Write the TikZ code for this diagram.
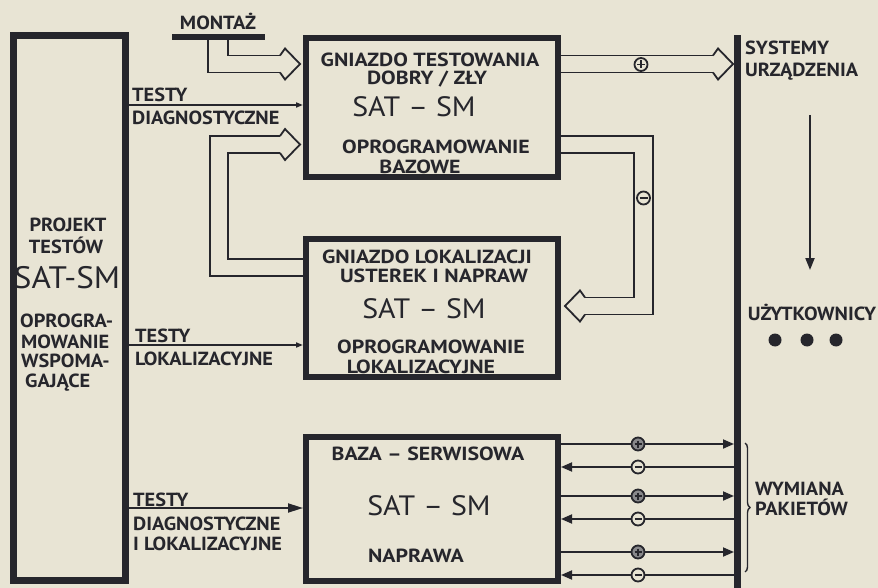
\documentclass[tikz,border=0pt]{standalone}
\usepackage{fontspec}
\setmainfont{PT Sans}
\newfontfamily\etyfont{PT Sans}[FakeStretch=1.07]
\newfontfamily\napfont{PT Sans}[FakeStretch=1.15]
\usetikzlibrary{arrows.meta,calc,positioning,decorations.pathreplacing}
\definecolor{tlo}{RGB}{232,228,212}
\definecolor{tusz}{RGB}{38,38,44}
\tikzset{
    blok/.style={draw=tusz,line width=6pt,inner sep=0pt},
    szynastyl/.style={fill=tusz,inner sep=0pt,outer sep=0pt,minimum width=7pt,minimum height=553pt},
    przewod/.style={draw=tusz,line width=1.8pt,line join=miter},
    etykieta/.style={font=\etyfont\bfseries\fontsize{19}{21}\selectfont,text=tusz,inner sep=0pt},
    napis/.style={font=\napfont\bfseries\fontsize{19}{21}\selectfont,text=tusz,inner sep=0pt},
    satsm/.style={font=\etyfont\fontsize{28}{30}\selectfont,text=tusz,inner sep=0pt},
    grotmaly/.style={-{Triangle[length=7pt,width=5pt]}},
    grotpelny/.style={-{Triangle[length=11pt,width=9pt]}},
    pics/grot/.style={code={
        \draw[przewod] (-20,-8.5) -- (-15,-15.5) -- (0,0) -- (-15,15.5) -- (-20,8.5);
    }}
}

\begin{document}
\begin{tikzpicture}[x=1pt,y=-1pt]
  \path[use as bounding box,fill=tlo] (0,0) rectangle (878,588);

  % napisy w blokach
  \node[etykieta,anchor=base] at (68,232) {PROJEKT};
  \node[etykieta,anchor=base] at (66,253) {TESTÓW};
  \node[satsm,font=\etyfont\fontsize{31}{33}\selectfont,anchor=base] at (67,288) {SAT-SM};
  \node[etykieta,anchor=base west] at (20,327) {OPROGRA-};
  \node[etykieta,anchor=base west] at (21,348) {MOWANIE};
  \node[etykieta,anchor=base west] at (21,367) {WSPOMA-};
  \node[etykieta,anchor=base west] at (25,387) {GAJĄCE};

  \node[napis,anchor=base] at (430,67) {GNIAZDO TESTOWANIA};
  \node[napis,anchor=base] at (427,85) {DOBRY / ZŁY};
  \node[satsm,anchor=base] at (414,117) {SAT – SM};
  \node[napis,anchor=base] at (436,154) {OPROGRAMOWANIE};
  \node[napis,anchor=base] at (420,174) {BAZOWE};

  \node[napis,anchor=base] at (427,263) {GNIAZDO LOKALIZACJI};
  \node[napis,anchor=base] at (434,282) {USTEREK I NAPRAW};
  \node[satsm,anchor=base] at (424,318) {SAT – SM};
  \node[napis,anchor=base] at (431,353) {OPROGRAMOWANIE};
  \node[napis,anchor=base] at (421,373) {LOKALIZACYJNE};

  \node[napis,anchor=base] at (428,460) {BAZA – SERWISOWA};
  \node[satsm,anchor=base] at (429,515) {SAT – SM};
  \node[napis,anchor=base] at (416,562) {NAPRAWA};

  % bloki
  \node[blok,line width=7pt,minimum width=112pt,minimum height=544pt] (projekt) at (69,308) {};
  \node[blok,minimum width=252pt,minimum height=139pt] (gtest) at (432,107.5) {};
  \node[blok,minimum width=252pt,minimum height=138pt] (glok) at (432,308) {};
  \node[blok,minimum width=252pt,minimum height=144pt] (baza) at (432,509) {};
  \node[szynastyl] (szyna) at (737.5,311.5) {};

  % montaz
  \node[etykieta,anchor=base] (montaz) at (218,30) {MONTAŻ};
  \draw[tusz,line width=6pt] (172,37) -- (265,37);
  \draw[przewod] (208,40) -- (208,72.5) -- (280,72.5);
  \draw[przewod] (228,40) -- (228,55.5) -- (280,55.5);
  \pic at (300,64) {grot};

  % testy
  \draw[przewod,grotmaly] (projekt.east |- 0,105) -- (gtest.west |- 0,105);
  \node[etykieta,anchor=base west] at (132,102) {TESTY};
  \node[etykieta,anchor=base west] at (132,125) {DIAGNOSTYCZNE};

  \draw[przewod,grotmaly] (projekt.east |- 0,345) -- (glok.west |- 0,345);
  \node[etykieta,anchor=base west] at (135,342) {TESTY};
  \node[etykieta,anchor=base west] at (135,365) {LOKALIZACYJNE};

  \draw[przewod,-{Triangle[length=15pt,width=9pt]}] (projekt.east |- 0,508) -- (baza.west |- 0,508);
  \node[etykieta,anchor=base west] at (133,506) {TESTY};
  \node[etykieta,anchor=base west] at (133,530) {DIAGNOSTYCZNE};
  \node[etykieta,anchor=base west] at (133,550) {I LOKALIZACYJNE};

  % powrot z lokalizacji
  \draw[przewod] (glok.west |- 0,276) -- (210,276) -- (210,136) -- (280,136);
  \draw[przewod] (glok.west |- 0,259) -- (228,259) -- (228,153) -- (280,153);
  \pic at (300,144.5) {grot};

  % dobry -> systemy
  \draw[przewod] (gtest.east |- 0,55.5) -- (713,55.5);
  \draw[przewod] (gtest.east |- 0,72.5) -- (713,72.5);
  \pic at (733,64) {grot};
  \draw[przewod,fill=tlo] (641,64.5) circle (6.5);
  \draw[przewod,line width=1.4pt] (637,64.5) -- (645,64.5) (641,60.5) -- (641,68.5);

  % zly -> naprawa
  \draw[przewod] (gtest.east |- 0,136) -- (653,136) -- (653,314.5) -- (585,314.5);
  \draw[przewod] (gtest.east |- 0,153) -- (634,153) -- (634,297.5) -- (585,297.5);
  \pic[xscale=-1] at (565,306) {grot};
  \draw[przewod,fill=tlo] (643.5,198) circle (6.5);
  \draw[przewod,line width=1.4pt] (639.5,198) -- (647.5,198);

  % wymiana pakietow
  \foreach \y in {444,496,552}{
    \draw[przewod,grotpelny] (baza.east |- 0,\y) -- (szyna.west |- 0,\y);
    \draw[przewod,fill=tusz!55] (638,\y) circle (6.5);
    \draw[tusz,line width=1.2pt] (634.5,\y) -- (641.5,\y) (638,\y-3.5) -- (638,\y+3.5);
  }
  \foreach \y in {467,519,575}{
    \draw[przewod,grotpelny] (szyna.west |- 0,\y) -- (baza.east |- 0,\y);
    \draw[przewod,fill=tlo] (638,\y) circle (6.5);
    \draw[tusz,line width=1.2pt] (634.5,\y) -- (641.5,\y);
  }
  \draw[tusz,line width=1.4pt,decorate,decoration={brace,amplitude=5pt}] (745,443) -- (745,572);
  \node[etykieta,anchor=base west] at (755,495) {WYMIANA};
  \node[etykieta,anchor=base west] at (755,515) {PAKIETÓW};

  % systemy i uzytkownicy
  \node[etykieta,anchor=base west] at (745,55) {SYSTEMY};
  \node[etykieta,anchor=base west] at (745,77) {URZĄDZENIA};
  \draw[tusz,line width=2pt,-{Triangle[length=12pt,width=9pt]}] (810,115) -- (810,270);
  \node[etykieta,anchor=base] at (812,320) {UŻYTKOWNICY};
  \foreach \x in {775,807,836}{
    \fill[tusz] (\x,340) circle (6.5);
  }
\end{tikzpicture}
\end{document}
